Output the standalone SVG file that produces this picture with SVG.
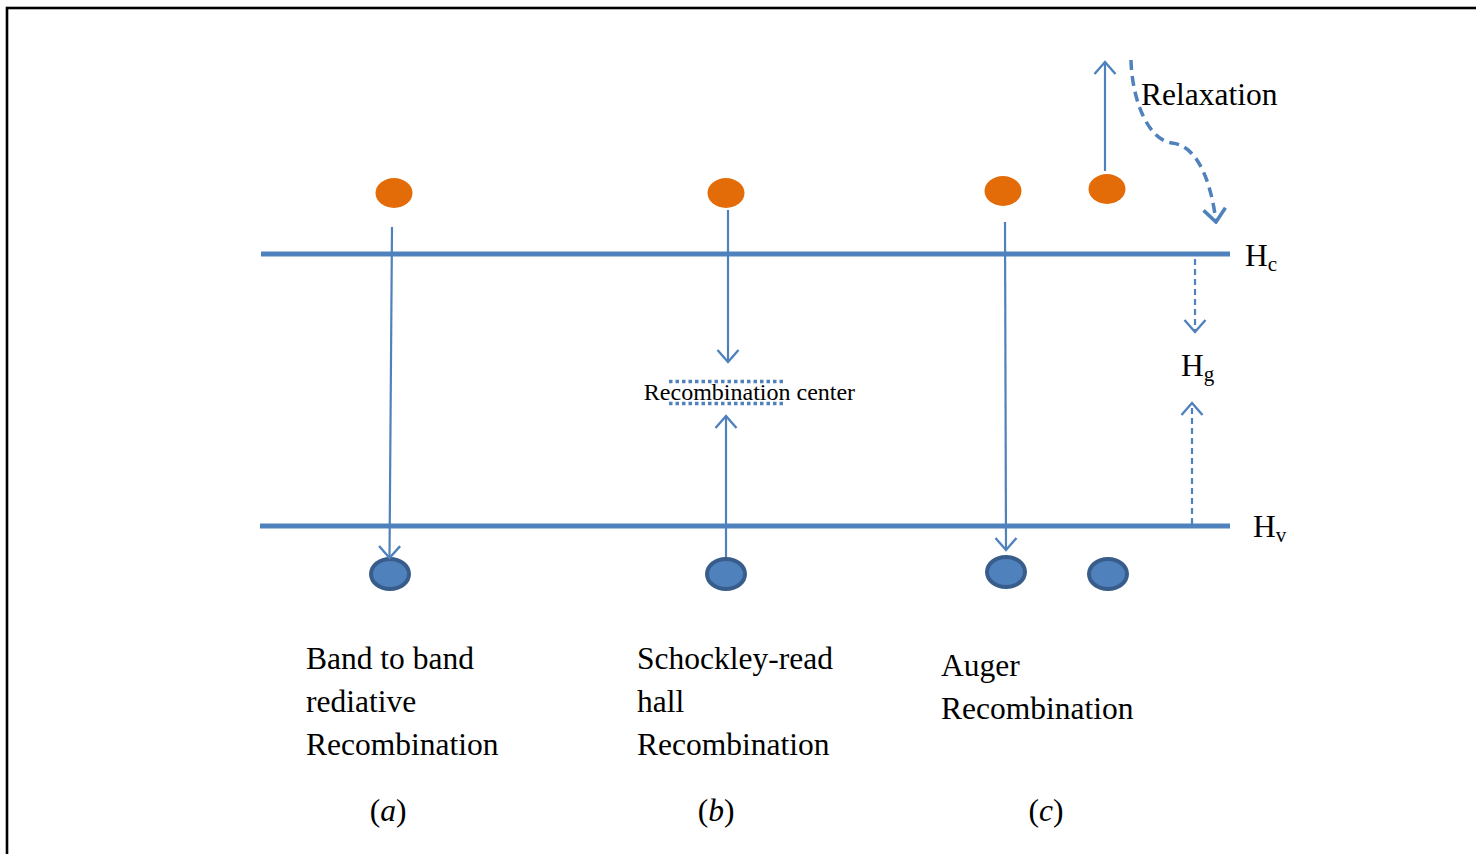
<svg xmlns="http://www.w3.org/2000/svg" width="1476" height="854" viewBox="0 0 1476 854">
  <style>
    .band { stroke: #4F81BD; stroke-width: 5; fill: none; }
    .arrow { stroke: #4F81BD; stroke-width: 2.2; fill: none; marker-end: url(#vhead); }
    .dash { stroke: #4F81BD; stroke-width: 2.2; fill: none; stroke-dasharray: 6 4; marker-end: url(#vhead); }
    .dots { stroke: #4F81BD; stroke-width: 3.5; fill: none; stroke-dasharray: 3.5 3; }
    .electron { fill: #E36C09; }
    .hole { fill: #4F81BD; stroke: #385D8A; stroke-width: 4; }
    text { font-family: "Liberation Serif", "Times New Roman", serif; fill: #000; }
    .lbl { font-size: 31.5px; }
    .sub { font-size: 21px; }
    .cap { font-size: 31.5px; text-anchor: middle; }
  </style>
  <defs>
    <marker id="vhead" viewBox="-13 -12 15 24" markerWidth="15" markerHeight="24" refX="0" refY="0" orient="auto" markerUnits="userSpaceOnUse">
      <path d="M-12,-10.5 L0,0 L-12,10.5" fill="none" stroke="#4F81BD" stroke-width="2.4"/>
    </marker>
    <marker id="vheadBig" viewBox="-15 -13 17 26" markerWidth="17" markerHeight="26" refX="0" refY="0" orient="auto" markerUnits="userSpaceOnUse">
      <path d="M-13,-11 L0,0 L-13,11" fill="none" stroke="#4F81BD" stroke-width="3.5"/>
    </marker>
  </defs>

  <!-- frame -->
  <rect x="7" y="8" width="1480" height="860" fill="none" stroke="#000" stroke-width="2.6"/>

  <!-- energy bands -->
  <g id="conduction-band">
    <line class="band" x1="261" y1="254" x2="1230" y2="254"/>
    <text class="lbl" x="1245" y="266">H<tspan class="sub" dy="5">c</tspan></text>
  </g>
  <g id="valence-band">
    <line class="band" x1="260" y1="526" x2="1230" y2="526"/>
    <text class="lbl" x="1253" y="537">H<tspan class="sub" dy="5">v</tspan></text>
  </g>
  <g id="gap-label">
    <text class="lbl" x="1181" y="376">H<tspan class="sub" dy="5">g</tspan></text>
  </g>

  <!-- carriers -->
  <g id="electron-a"><ellipse class="electron" cx="394" cy="193" rx="18.5" ry="15"/></g>
  <g id="electron-b"><ellipse class="electron" cx="726" cy="193" rx="18.5" ry="15"/></g>
  <g id="electron-c1"><ellipse class="electron" cx="1003" cy="191" rx="18.5" ry="15"/></g>
  <g id="electron-c2"><ellipse class="electron" cx="1107" cy="189" rx="18.5" ry="15"/></g>
  <g id="hole-a"><ellipse class="hole" cx="390" cy="574" rx="19" ry="15"/></g>
  <g id="hole-b"><ellipse class="hole" cx="726" cy="574" rx="19" ry="15"/></g>
  <g id="hole-c1"><ellipse class="hole" cx="1006" cy="572" rx="19" ry="15"/></g>
  <g id="hole-c2"><ellipse class="hole" cx="1108" cy="574" rx="19" ry="15"/></g>

  <!-- trap level -->
  <g id="recombination-center">
    <line class="dots" x1="669" y1="381.5" x2="784" y2="381.5"/>
    <line class="dots" x1="669" y1="403.5" x2="784" y2="403.5"/>
    <text x="749.5" y="399.5" font-size="24" text-anchor="middle">Recombination center</text>
  </g>

  <!-- transitions -->
  <g id="connectors">
    <line class="arrow" x1="392" y1="227" x2="389.5" y2="558"/>
    <line class="arrow" x1="728" y1="210" x2="728" y2="362"/>
    <line class="arrow" x1="726" y1="557" x2="726" y2="416"/>
    <line class="arrow" x1="1005" y1="222" x2="1006" y2="550"/>
    <line class="arrow" x1="1105" y1="171" x2="1105" y2="62"/>
    <line class="dash" x1="1195" y1="259" x2="1195" y2="332"/>
    <line class="dash" x1="1192" y1="524" x2="1192" y2="403"/>
    <path d="M1131,60 C1132,100 1148,140 1172,143 C1200,146 1212,188 1216,222" fill="none" stroke="#4F81BD" stroke-width="3.5" stroke-dasharray="10 6" marker-end="url(#vheadBig)"/>
  </g>

  <g id="relaxation-label">
    <text class="lbl" x="1141" y="105">Relaxation</text>
  </g>

  <!-- captions -->
  <g id="caption-a">
    <text class="lbl" x="306" y="669">Band to band</text>
    <text class="lbl" x="306" y="712">rediative</text>
    <text class="lbl" x="306" y="755">Recombination</text>
    <text class="cap" x="388" y="821">(<tspan font-style="italic">a</tspan>)</text>
  </g>
  <g id="caption-b">
    <text class="lbl" x="637" y="669">Schockley-read</text>
    <text class="lbl" x="637" y="712">hall</text>
    <text class="lbl" x="637" y="755">Recombination</text>
    <text class="cap" x="716" y="821">(<tspan font-style="italic">b</tspan>)</text>
  </g>
  <g id="caption-c">
    <text class="lbl" x="941" y="676">Auger</text>
    <text class="lbl" x="941" y="719">Recombination</text>
    <text class="cap" x="1046" y="821">(<tspan font-style="italic">c</tspan>)</text>
  </g>
</svg>
